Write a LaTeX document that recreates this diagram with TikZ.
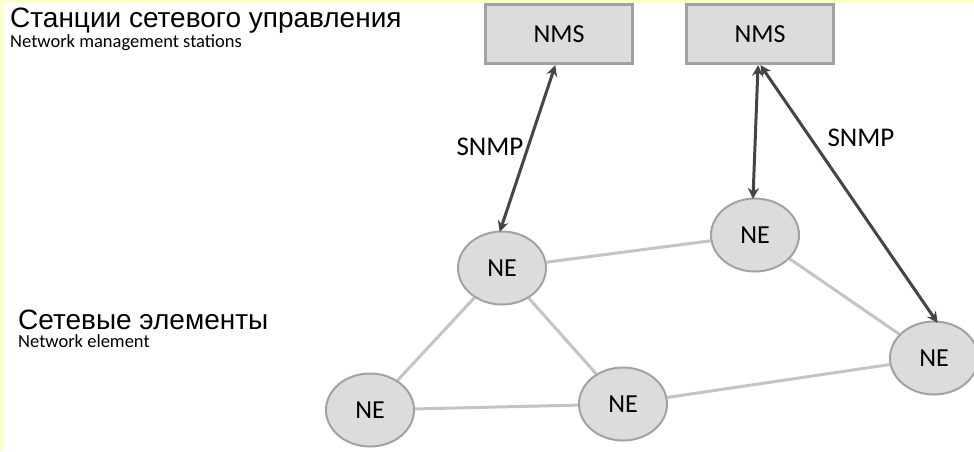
\documentclass[tikz,border=0pt]{standalone}
\usepackage{fontspec}
\setmainfont{Liberation Sans}
\newfontfamily\labelfont{Carlito}
\usetikzlibrary{arrows.meta,shapes.geometric,backgrounds}
\definecolor{boxfill}{HTML}{DCDCDC}
\definecolor{boxedge}{HTML}{A2A2A2}
\definecolor{linkgray}{HTML}{C4C4C4}
\definecolor{arrowgray}{HTML}{454545}
\definecolor{paperedge}{HTML}{FFFFCC}
\begin{document}
\begin{tikzpicture}[x=1pt,y=-1pt,
  nms/.style={draw=boxedge,fill=boxfill,line width=2.5pt,minimum width=147pt,minimum height=59pt,inner sep=0pt,font=\labelfont\fontsize{26}{30}\selectfont},
  ne/.style={draw=boxedge,fill=boxfill,line width=2pt,ellipse,minimum width=88pt,minimum height=73pt,inner sep=0pt,font=\labelfont\fontsize{26}{30}\selectfont},
  link/.style={draw=linkgray,line width=3pt},
  snmp/.style={draw=arrowgray,line width=3pt,{Stealth[length=11pt,width=11pt]}-{Stealth[length=11pt,width=11pt]},shorten <=-1pt,shorten >=-1pt},
  head/.style={anchor=base west,inner sep=0pt,font=\fontsize{28}{32}\selectfont},
  sub/.style={anchor=base west,inner sep=0pt,font=\labelfont\fontsize{18.5}{22}\selectfont},
  tag/.style={inner sep=0pt,font=\labelfont\fontsize{27}{32}\selectfont}]
% page and its thin yellow edge
\begin{scope}[on background layer]
\fill[white] (0,0) rectangle (974,451);
\fill[paperedge] (0,0) rectangle (974,3);
\fill[paperedge] (0,0) rectangle (3,451);
\end{scope}
\useasboundingbox (0,0) rectangle (974,451);

% headings
\node[head] (h1) at (10,27) {Станции сетевого управления};
\node[sub] (s1) at (10,47) {Network management stations};
\node[head] (h2) at (18,329) {Сетевые элементы};
\node[sub] (s2) at (18,347) {Network element};

% management stations
\node[nms] (nms1) at (559,34) {NMS};
\node[nms] (nms2) at (760,34) {NMS};

% network elements
\node[ne] (ne1) at (502,268) {NE};
\node[ne] (ne2) at (755,235) {NE};
\node[ne] (ne3) at (934,358) {NE};
\node[ne] (ne4) at (370,410) {NE};
\node[ne] (ne5) at (623,404) {NE};

% links between elements, kept behind the ellipses
\begin{scope}[on background layer]
\draw[link] (ne1) -- (ne2);
\draw[link] (ne1) -- (ne4);
\draw[link] (ne1) -- (ne5);
\draw[link] (ne4) -- (ne5);
\draw[link] (ne5) -- (ne3);
\draw[link] (ne2) -- (ne3);
\end{scope}

% SNMP sessions
\coordinate (a1) at (555,66);
\coordinate (b1) at (500,231);
\coordinate (a2) at (758,66);
\coordinate (b2) at (753,198);
\coordinate (a3) at (761,66);
\coordinate (b3) at (937,322);
\draw[snmp] (a1) -- (b1);
\draw[snmp] (a2) -- (b2);
\draw[snmp] (a3) -- (b3);

\node[tag] (t1) at (490,147) {SNMP};
\node[tag] (t2) at (861,138) {SNMP};
\end{tikzpicture}
\end{document}
